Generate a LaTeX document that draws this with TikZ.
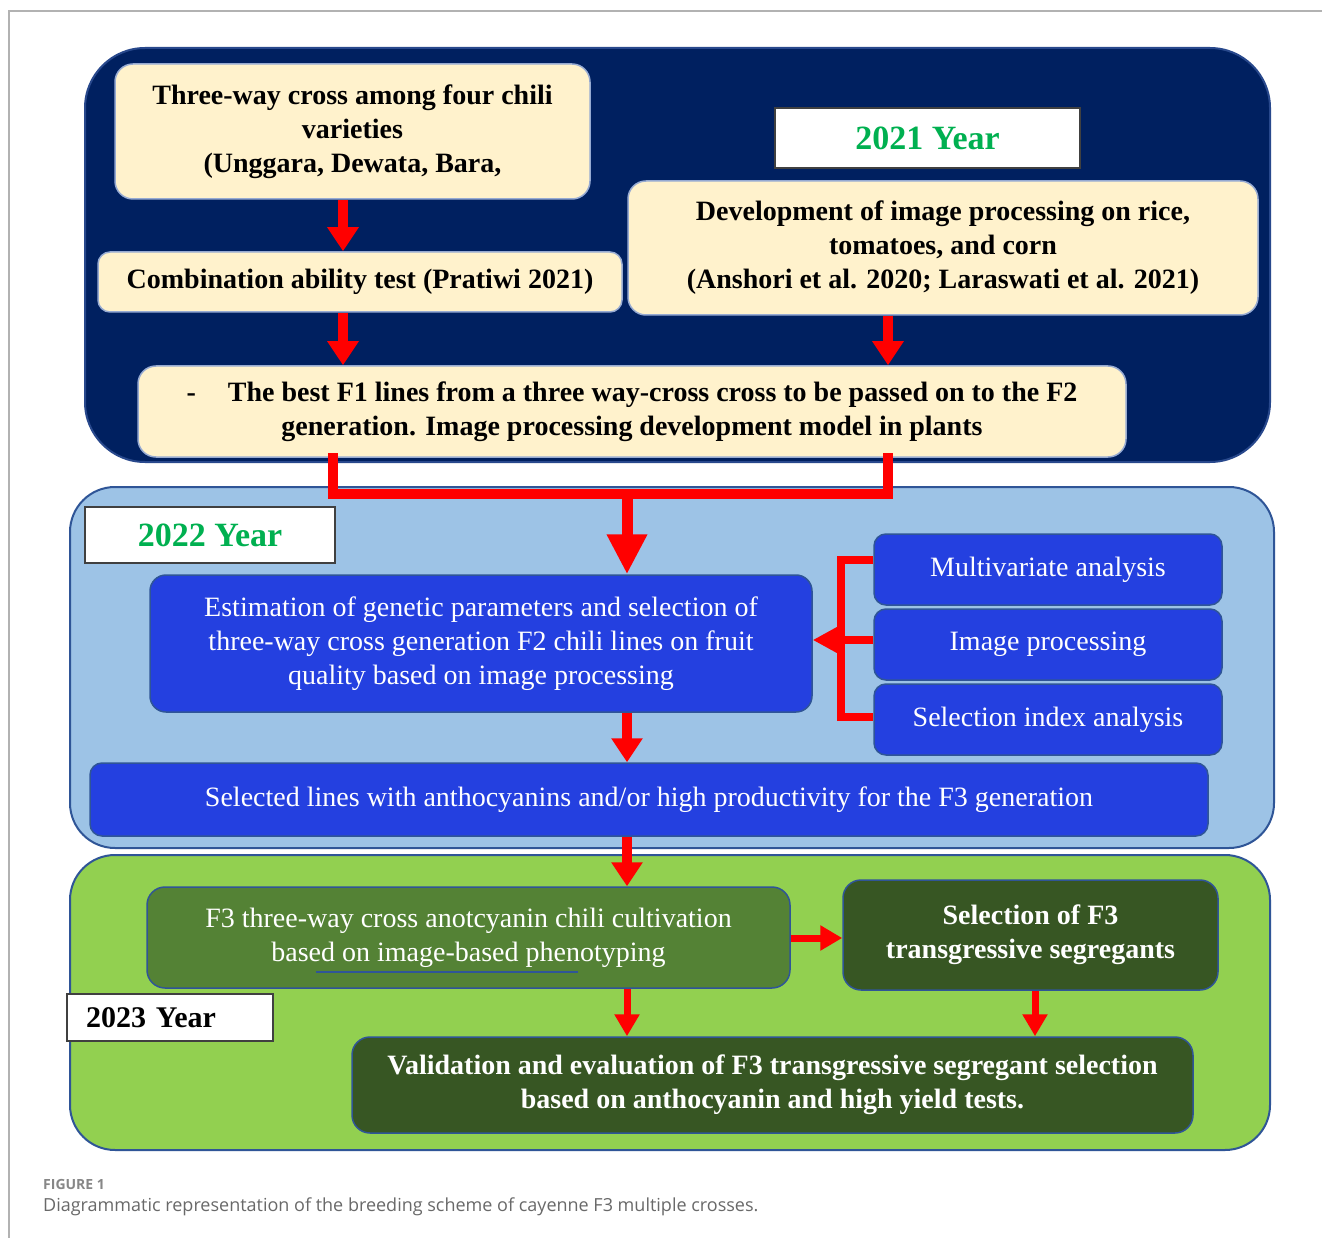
\documentclass[tikz,border=0pt]{standalone}
\usepackage{fontspec}
\setmainfont{Liberation Serif}
\newfontfamily\capfont{Open Sans}
\usetikzlibrary{arrows.meta}
\definecolor{navy}{RGB}{0,32,96}
\definecolor{navyrim}{RGB}{40,72,140}
\definecolor{cream}{RGB}{255,242,204}
\definecolor{creamrim}{RGB}{150,170,210}
\definecolor{lblue}{RGB}{157,195,230}
\definecolor{panelrim}{RGB}{47,85,151}
\definecolor{bbox}{RGB}{36,64,224}
\definecolor{lgreen}{RGB}{146,208,80}
\definecolor{mgreen}{RGB}{84,130,53}
\definecolor{dgreen}{RGB}{55,86,35}
\definecolor{ygreen}{RGB}{0,176,80}
\definecolor{capgray}{RGB}{105,105,105}
\begin{document}
\begin{tikzpicture}[x=1pt,y=-1pt,
  panel/.style={line width=2, inner sep=0pt},
  cbox/.style={draw=creamrim, line width=1.5, fill=cream, rounded corners=18, inner sep=0pt,
    align=center, text=black, font=\bfseries\fontsize{28}{34}\selectfont},
  bbx/.style={draw=panelrim, line width=1.5, fill=bbox, rounded corners=16, inner sep=0pt,
    align=center, text=white, font=\fontsize{28}{34}\selectfont},
  gbx/.style={draw=panelrim, line width=1.5, rounded corners=18, inner sep=0pt,
    align=center, text=white, font=\fontsize{28}{34}\selectfont},
  ybox/.style={draw=black!75, line width=1.2, fill=white, inner sep=0pt,
    font=\bfseries\fontsize{34}{40}\selectfont, text=ygreen},
  rline/.style={draw=red, line width=10},
  rarr/.style={rline, -{Triangle[width=30pt,length=24pt]}},
  rarrs/.style={draw=red, line width=7, -{Triangle[width=24pt,length=22pt]}}
]
\useasboundingbox (0,0) rectangle (1322,1238);
\fill[white] (0,0) rectangle (1322,1238);
\draw[black!30, line width=1.2] (9,1238) -- (9,11) -- (1322,11);

% panels
\node[panel, draw=navyrim, fill=navy, rounded corners=60, minimum width=1185, minimum height=414] (P1) at (677.5,255) {};
\node[panel, draw=panelrim, fill=lblue, rounded corners=45, minimum width=1204, minimum height=361] (P2) at (672,667.5) {};
\node[panel, draw=panelrim, fill=lgreen, rounded corners=45, minimum width=1200, minimum height=295] (P3) at (670,1002.5) {};

% 2021
\node[cbox, minimum width=475, minimum height=135] (A) at (352.5,131.5)
  {Three-way cross among four chili\\varieties\\(Unggara, Dewata, Bara,};
\node[ybox, minimum width=305, minimum height=60] (Y21) at (927.5,138) {2021 Year};
\node[cbox, minimum width=630, minimum height=134] (B) at (943,248)
  {Development of image processing on rice,\\tomatoes, and corn\\(Anshori et al. 2020; Laraswati et al. 2021)};
\node[cbox, minimum width=524, minimum height=60, rounded corners=12] (C) at (360,282)
  {Combination ability test (Pratiwi 2021)};
\node[cbox, minimum width=988, minimum height=91] (D) at (632,411.5)
  {-\hspace{32pt}The best F1 lines from a three way-cross cross to be passed on to the F2\\generation. Image processing development model in plants};

% 2022
\node[ybox, minimum width=250, minimum height=56] (Y22) at (210,535) {2022 Year};
\node[bbx, minimum width=662, minimum height=137] (E) at (481,643.5)
  {Estimation of genetic parameters and selection of\\three-way cross generation F2 chili lines on fruit\\quality based on image processing};
\node[bbx, minimum width=348, minimum height=71, rounded corners=12] (M1) at (1048,569.5) {Multivariate analysis};
\node[bbx, minimum width=348, minimum height=71, rounded corners=12] (M2) at (1048,644.5) {Image processing};
\node[bbx, minimum width=348, minimum height=71, rounded corners=12] (M3) at (1048,719.5) {Selection index analysis};
\node[bbx, minimum width=1118, minimum height=73, rounded corners=12] (F) at (649,799.5)
  {Selected lines with anthocyanins and/or high productivity for the F3 generation};

% 2023
\node[gbx, fill=mgreen, minimum width=643, minimum height=101] (G) at (468.5,937.5)
  {F3 three-way cross anotcyanin chili cultivation\\based on image-based phenotyping};
\draw[panelrim, line width=1.2] (316,972) -- (578,972);
\node[gbx, fill=dgreen, font=\bfseries\fontsize{28}{34}\selectfont, minimum width=375, minimum height=110] (H) at (1030.5,935)
  {Selection of F3\\transgressive segregants};
\node[ybox, text=black, font=\bfseries\fontsize{30}{36}\selectfont, text width=168pt, align=left, inner xsep=19pt,
  minimum width=206, minimum height=47] (Y23) at (170,1017.5) {2023 Year};
\node[gbx, fill=dgreen, font=\bfseries\fontsize{28}{34}\selectfont, minimum width=841, minimum height=96] (I) at (772.5,1085)
  {Validation and evaluation of F3 transgressive segregant selection\\based on anthocyanin and high yield tests.};

% coordinates for connectors
\coordinate (x343) at (343,0);
\coordinate (x333) at (333,0);
\coordinate (x888) at (888,0);
\coordinate (J) at (627,494);
\coordinate (x627) at (627,0);
\coordinate (x1035) at (1035,0);
\coordinate (bt) at (841,560);
\coordinate (bm) at (841,640);
\coordinate (bb) at (841,717);
\coordinate (gh) at (0,938);

% connectors
\draw[rarr] (A.south -| x343) -- (C.north -| x343);
\draw[rarr] (C.south -| x343) -- (D.north -| x343);
\draw[rarr] (B.south -| x888) -- (D.north -| x888);
\draw[rline, line cap=rect] (D.south -| x333) |- (J) -| (D.south -| x888);
\draw[draw=red, line width=11, -{Triangle[width=38pt,length=40pt]}] (J) -- (E.north -| J);
\draw[rline, line width=8, line join=miter] (M1.west |- bt) -- (bt) -- (bb) -- (M3.west |- bb);
\draw[rline, line width=8, -{Triangle[width=24pt,length=24pt]}] (M2.west |- bm) -- (E.east |- bm);
\draw[rarr] (E.south -| x627) -- (F.north -| x627);
\draw[rarr] (F.south -| x627) -- (G.north -| x627);
\draw[rarrs] (G.east |- gh) -- (H.west |- gh);
\draw[rarrs] (G.south -| x627) -- (I.north -| x627);
\draw[rarrs] (H.south -| x1035) -- (I.north -| x1035);

% caption
\node[anchor=west, inner sep=0pt, text=capgray!80, font=\capfont\bfseries\fontsize{14}{16}\selectfont] (cap1) at (43,1184) {FIGURE 1};
\node[anchor=west, inner sep=0pt, text=capgray, font=\capfont\fontsize{18}{22}\selectfont] (cap2) at (43,1207)
  {Diagrammatic representation of the breeding scheme of cayenne F3 multiple crosses.};
\end{tikzpicture}
\end{document}
